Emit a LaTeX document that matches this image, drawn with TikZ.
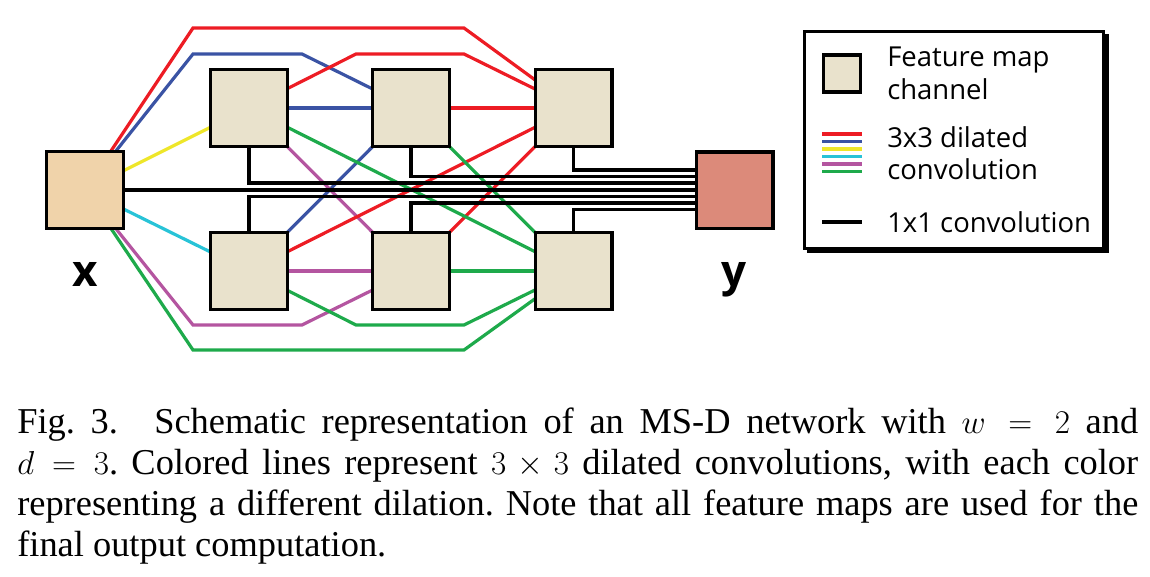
\documentclass[tikz,border=0pt]{standalone}
\usepackage{fontspec}
\setmainfont{Liberation Serif}
\newfontfamily\lgfont{Open Sans}
\usetikzlibrary{backgrounds}
\definecolor{featc}{HTML}{E9E2CC}
\definecolor{xc}{HTML}{F0D3AA}
\definecolor{yc}{HTML}{DC8A7A}
\definecolor{cred}{HTML}{ED1C24}
\definecolor{cblue}{HTML}{3A53A4}
\definecolor{cyel}{HTML}{EEE62A}
\definecolor{ccyan}{HTML}{28C3D7}
\definecolor{cmag}{HTML}{B455A0}
\definecolor{cgreen}{HTML}{1EAA4B}
\tikzset{
  fmap/.style={draw=black, line width=2.6pt, fill=featc, minimum size=57.4pt, inner sep=0pt, outer sep=0pt},
  lgbox/.style={draw=black, line width=2.6pt, fill=featc, minimum size=27.5pt, inner sep=0pt, outer sep=0pt},
  conv/.style={line width=2.4pt},
  onebyone/.style={line width=2.3pt, black},
  lgline/.style={line width=2.4pt},
  lbl/.style={font=\lgfont\bfseries\fontsize{33pt}{36pt}\selectfont, inner sep=0pt},
  lgtext/.style={font=\lgfont\fontsize{20.6pt}{24pt}\selectfont, inner sep=0pt, anchor=base west},
  captext/.style={font=\frenchspacing\fontsize{27.3pt}{31pt}\selectfont, inner sep=0pt, anchor=base west}
}
\begin{document}
\begin{tikzpicture}[x=0.75pt,y=-0.75pt]
\useasboundingbox (0,0) rectangle (1150,577);
% feature maps
\node[fmap, fill=xc] (X) at (85,190) {};
\node[fmap] (A1) at (249,108) {};
\node[fmap] (A2) at (411,108) {};
\node[fmap] (A3) at (573.5,108) {};
\node[fmap] (B1) at (249,271) {};
\node[fmap] (B2) at (411,271) {};
\node[fmap] (B3) at (573.5,271) {};
\node[fmap, fill=yc] (Y) at (734.5,190.5) {};
\node[lbl, anchor=base] (xl) at (85,287) {x};
\node[lbl, anchor=base] (yl) at (734,287) {y};
% connectors
\begin{scope}[on background layer]
\draw[conv, cred] (X) -- (193,28) -- (464,28) -- (A3);
\draw[conv, cblue] (X) -- (193,54) -- (302,54) -- (A2);
\draw[conv, cred] (A1) -- (356,54) -- (464,54) -- (A3);
\draw[conv, cmag] (X) -- (193,325) -- (302,325) -- (B2);
\draw[conv, cgreen] (B1) -- (356,325) -- (464,325) -- (B3);
\draw[conv, cgreen] (X) -- (193,350) -- (464,350) -- (B3);
\draw[conv, cyel] (X) -- (A1);
\draw[conv, ccyan] (X) -- (B1);
\draw[conv, cblue] (A1) -- (A2);
\draw[conv, cblue] (B1) -- (A2);
\draw[conv, cmag] (A1) -- (B2);
\draw[conv, cmag] (B1) -- (B2);
\draw[conv, cred] (A2) -- (A3);
\draw[conv, cred] (B1) -- (A3);
\draw[conv, cred] (B2) -- (A3);
\draw[conv, cgreen] (A1) -- (B3);
\draw[conv, cgreen] (A2) -- (B3);
\draw[conv, cgreen] (B2) -- (B3);
% 1x1 convolutions
\draw[onebyone] (A3.south) |- (Y.west |- 0,170);
\draw[onebyone] (A2.south) |- (Y.west |- 0,176.5);
\draw[onebyone] (A1.south) |- (Y.west |- 0,183);
\draw[onebyone] (X.east) -- (Y.west |- X.east);
\draw[onebyone] (B1.north) |- (Y.west |- 0,196.5);
\draw[onebyone] (B2.north) |- (Y.west |- 0,203);
\draw[onebyone] (B3.north) |- (Y.west |- 0,209.5);
\end{scope}
% legend
\fill[black] (807,34) rectangle (1108.5,253.5);
\draw[line width=2.6pt, fill=white] (804.75,31.75) rectangle (1103.25,248.25);
\node[lgbox] (LS) at (842,73.5) {};
\draw[lgline, cred] (822,134) -- (862,134);
\draw[lgline, cblue] (822,141.5) -- (862,141.5);
\draw[lgline, cyel] (822,149) -- (862,149);
\draw[lgline, ccyan] (822,156.5) -- (862,156.5);
\draw[lgline, cmag] (822,164) -- (862,164);
\draw[lgline, cgreen] (822,171.5) -- (862,171.5);
\draw[lgline, black] (822,222) -- (862,222);
\node[lgtext] (t1) at (887,66.7) {Feature map};
\node[lgtext] (t2) at (887,100) {channel};
\node[lgtext] (t3) at (887,147.7) {3x3 dilated};
\node[lgtext] (t4) at (887,179.3) {convolution};
\node[lgtext] (t5) at (887,232.7) {1x1 convolution};
% caption
\node[captext] (c1) at (17,433) {\makebox[840.75pt][s]{Fig.~3.\quad Schematic representation of an MS-D network with $w = 2$ and}};
\node[captext] (c2) at (17,474) {\makebox[840.75pt][s]{$d = 3$. Colored lines represent $3 \times 3$ dilated convolutions, with each color}};
\node[captext] (c3) at (17,515) {\makebox[840.75pt][s]{representing a different dilation. Note that all feature maps are used for the}};
\node[captext] (c4) at (17,556) {final output computation.};
\end{tikzpicture}
\end{document}
